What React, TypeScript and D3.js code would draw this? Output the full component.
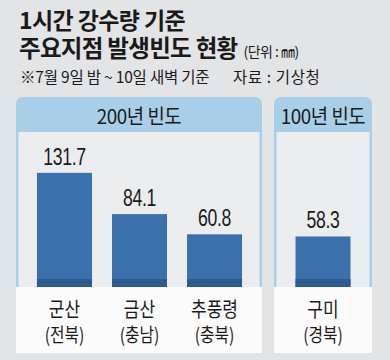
import React from "react";
import { scaleBand, scaleLinear } from "d3";

const titleLines = ["1시간 강수량 기준", "주요지점 발생빈도 현황"];
const unitLabel = "(단위 : ㎜)";
const noteLabel = "※7월 9일 밤 ~ 10일 새벽 기준";
const sourceLabel = "자료 : 기상청";

const groups = ["200년 빈도", "100년 빈도"];
const cities = ["군산", "금산", "추풍령", "구미"];
const provinces = ["(전북)", "(충남)", "(충북)", "(경북)"];
const rainfall = [131.7, 84.1, 60.8, 58.3];
const cityGroup = [0, 0, 0, 1];

const W = 390;
const H = 360;
const font = "'Noto Sans CJK KR', 'Noto Sans', sans-serif";
const numFont = "'Liberation Sans', Arial, sans-serif";

// panel layout
const panels = [
  { x0: 16, x1: 262 },
  { x0: 274, x1: 372 }
];
const panelTop = 97;
const headerBottom = 132;
const baseY = 287;
const panelBottom = 353;
const border = 2.5;
const radius = 8;

const colors = {
  page: "#e3e4e6",
  inner: "#ebecee",
  header: "#a9cee8",
  bar: "#3b70ad",
  barDark: "#2d5a8f",
  label: "#fbfbfb",
  text: "#1a1a1a"
};

const y = scaleLinear().domain([0, 150]).range([baseY, baseY - 130]);

const xScales = [
  scaleBand<string>()
    .domain(cities.filter((c, i) => cityGroup[i] === 0))
    .range([27, 252])
    .paddingInner(0.267)
    .paddingOuter(0.133),
  scaleBand<string>()
    .domain(cities.filter((c, i) => cityGroup[i] === 1))
    .range([285.5, 360.5])
    .paddingInner(0.267)
    .paddingOuter(0.133)
];

const headerPath = (x0: number, x1: number) =>
  `M${x0},${headerBottom} V${panelTop + radius} Q${x0},${panelTop} ${x0 + radius},${panelTop} ` +
  `H${x1 - radius} Q${x1},${panelTop} ${x1},${panelTop + radius} V${headerBottom} Z`;

// condensed text: the original uses a narrow gothic face
const Squeezed = ({ x, y, sx, children, ...rest }: any) => (
  <text transform={`translate(${x},${y}) scale(${sx},1)`} textAnchor="middle" fill={colors.text} {...rest}>
    {children}
  </text>
);

export default function App() {
  return (
    <svg
      width={W}
      height={H}
      style={{ position: "absolute", left: 0, top: 0, background: colors.page }}
    >
      <rect width={W} height={H} fill={colors.page} />

      <text fontFamily={font} fontWeight={700} fill={colors.text}>
        <tspan x={19} y={29} fontSize={23} letterSpacing={-0.6}>
          {titleLines[0]}
        </tspan>
        <tspan x={19} y={57} fontSize={23.5} letterSpacing={-0.7}>
          {titleLines[1]}
        </tspan>
        <tspan dx={6} fontSize={14} fontWeight={400} letterSpacing={-0.5}>
          {unitLabel}
        </tspan>
      </text>
      <text x={20} y={83} fontFamily={font} fontSize={15.5} fill={colors.text} letterSpacing={-0.2}>
        {noteLabel}
      </text>
      <text x={233} y={83} fontFamily={font} fontSize={15.5} fill={colors.text} letterSpacing={0.6}>
        {sourceLabel}
      </text>

      {panels.map((p, gi) => (
        <g key={groups[gi]}>
          <rect x={p.x0} y={headerBottom} width={p.x1 - p.x0} height={baseY - headerBottom} fill={colors.inner} />
          <rect x={p.x0} y={headerBottom} width={border} height={baseY - headerBottom} fill={colors.header} />
          <rect x={p.x1 - border} y={headerBottom} width={border} height={baseY - headerBottom} fill={colors.header} />
          <path d={headerPath(p.x0, p.x1)} fill={colors.header} />
          <rect x={p.x0} y={baseY} width={p.x1 - p.x0} height={panelBottom - baseY} fill={colors.label} />
          <Squeezed x={(p.x0 + p.x1) / 2} y={124} sx={0.92} fontFamily={font} fontSize={20.5} letterSpacing={-0.5}>
            {groups[gi]}
          </Squeezed>
        </g>
      ))}

      {cities.map((c, i) => {
        const xs = xScales[cityGroup[i]];
        const bx = xs(c) ?? 0;
        const bw = xs.bandwidth();
        const cx = bx + bw / 2;
        const top = y(rainfall[i]);
        return (
          <g key={c}>
            <rect x={bx} y={top} width={bw} height={baseY - top} fill={colors.bar} />
            <rect x={bx} y={baseY - 8} width={bw} height={8} fill={colors.barDark} />
            <Squeezed x={cx} y={top - 8} sx={0.72} fontFamily={numFont} fontSize={24.5} letterSpacing={-0.5}>
              {rainfall[i].toFixed(1)}
            </Squeezed>
            <Squeezed x={cx} y={317} sx={0.83} fontFamily={font}>
              <tspan x={0} y={0} fontSize={20.5}>
                {c}
              </tspan>
              <tspan x={0} y={25} fontSize={19}>
                {provinces[i]}
              </tspan>
            </Squeezed>
          </g>
        );
      })}
    </svg>
  );
}
